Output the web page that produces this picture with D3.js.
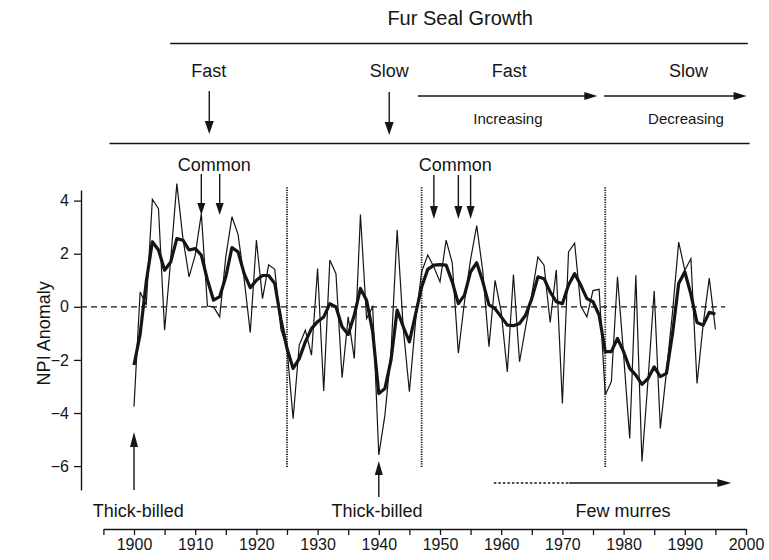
<!DOCTYPE html>
<html>
<head>
<meta charset="utf-8">
<script src="https://cdn.jsdelivr.net/npm/d3@7"></script>
<style>
  body { margin: 0; background: #fff; }
  svg { display: block; }
  text { font-family: "Liberation Sans", Arial, Helvetica, sans-serif; fill: #151515; }
</style>
</head>
<body>
<div id="chart"></div>
<script>
// NPI anomaly, annual values 1900-1995
const annual = [
  -3.76, 0.56, 0.07, 4.05, 3.70, -0.88, 1.79, 4.64, 2.57, 1.13,
  1.95, 3.51, 0.03, 0.00, -0.38, 1.88, 3.39, 2.73, 1.04, -0.97,
  2.51, 0.31, 1.58, 1.41, -0.85, -1.57, -4.21, -1.44, -0.88, -1.82,
  1.44, -3.17, 1.76, 1.25, -2.67, -0.38, -1.95, 3.48, -0.44, 0.00,
  -5.58, -4.08, -1.69, 2.89, -0.82, -3.20, -0.56, 1.32, 1.95, 1.50,
  0.94, 2.51, 1.66, -1.75, 0.19, 1.79, 3.06, 1.32, -1.50, 1.00,
  -0.19, -2.45, 1.22, -2.07, -0.75, 0.47, 1.88, 1.57, -0.59, 1.39,
  -3.64, 2.07, 2.40, 0.03, -0.38, 0.61, 0.66, -3.32, -2.82, 1.13,
  -1.79, -4.96, 1.19, -5.83, -2.73, 0.59, -4.58, -2.45, -0.19, 2.44,
  1.38, 1.81, -2.89, -0.66, 1.08, -0.85
];
// smoothed series (thick line)
const smoothed = [
  -2.19, -1.04, 0.94, 2.45, 2.14, 1.38, 1.69, 2.57, 2.51, 2.14,
  2.19, 1.95, 1.01, 0.25, 0.38, 1.13, 2.23, 2.07, 1.25, 0.72,
  1.00, 1.18, 1.18, 0.88, -0.47, -1.57, -2.32, -1.95, -1.32, -0.82,
  -0.56, -0.38, 0.12, 0.00, -0.75, -1.04, -0.31, 0.69, 0.25, -0.94,
  -3.27, -3.08, -2.00, -0.12, -0.75, -1.32, -0.28, 0.75, 1.41, 1.57,
  1.59, 1.57, 0.94, 0.12, 0.44, 1.32, 1.66, 0.94, 0.07, -0.07,
  -0.38, -0.69, -0.71, -0.63, -0.31, 0.31, 1.13, 1.06, 0.56, 0.19,
  0.12, 0.82, 1.25, 0.82, 0.31, 0.19, -0.31, -1.69, -1.69, -1.19,
  -1.69, -2.32, -2.57, -2.92, -2.70, -2.26, -2.63, -2.51, -1.00, 0.88,
  1.32, 0.47, -0.59, -0.69, -0.21, -0.27
];
const firstYear = 1900;

const xTickYears = [1895, 1900, 1905, 1910, 1915, 1920, 1925, 1930, 1935, 1940, 1945,
  1950, 1955, 1960, 1965, 1970, 1975, 1980, 1985, 1990, 1995, 2000];
const yTicks = [-6, -4, -2, 0, 2, 4];

// regime shifts (dotted lines)
const shiftYears = [1925, 1947, 1977];
// "Common" murre years
const commonYears = [[1911, 1914], [1949, 1953, 1955]];
const commonLabelYears = [1913.1, 1952.5];
// "Thick-billed" years
const thickBilledYears = [1900, 1940];

// fur seal growth header
const growthSpeed = [
  { text: "Fast", year: 1912.2 },
  { text: "Slow", year: 1941.7 },
  { text: "Fast", year: 1961.3 },
  { text: "Slow", year: 1990.6 }
];
const growthTrend = [
  { text: "Increasing", year: 1961.1 },
  { text: "Decreasing", year: 1990.2 }
];

const W = 769, H = 560;
const ink = "#151515";

const svg = d3.select("#chart").append("svg")
  .attr("width", W)
  .attr("height", H);

// =========================
// SCALES
// =========================
const x = d3.scaleLinear().domain([1895, 2000]).range([103.4, 746]);
const y = d3.scaleLinear().domain([-6.9, 4.4]).range([490, 190]);
const yAxisX = 81;

function downArrow(g, cx, y0, y1, headLen, headW) {
  g.append("line")
    .attr("x1", cx).attr("x2", cx)
    .attr("y1", y0).attr("y2", y1 - headLen + 1)
    .attr("stroke", ink).attr("stroke-width", 1.4);
  g.append("path")
    .attr("d", `M${cx - headW / 2},${y1 - headLen} L${cx + headW / 2},${y1 - headLen} L${cx},${y1} Z`)
    .attr("fill", ink);
}
function upArrow(g, cx, y0, y1, headLen, headW) {
  // y0 = bottom, y1 = tip
  g.append("line")
    .attr("x1", cx).attr("x2", cx)
    .attr("y1", y0).attr("y2", y1 + headLen - 1)
    .attr("stroke", ink).attr("stroke-width", 1.4);
  g.append("path")
    .attr("d", `M${cx - headW / 2},${y1 + headLen} L${cx + headW / 2},${y1 + headLen} L${cx},${y1} Z`)
    .attr("fill", ink);
}
function rightArrow(g, x0, x1, cy, headLen, headW, dash) {
  const l = g.append("line")
    .attr("x1", x0).attr("x2", x1 - headLen + 1)
    .attr("y1", cy).attr("y2", cy)
    .attr("stroke", ink).attr("stroke-width", 1.4);
  if (dash) l.attr("stroke-dasharray", dash);
  g.append("path")
    .attr("d", `M${x1 - headLen},${cy - headW / 2} L${x1 - headLen},${cy + headW / 2} L${x1},${cy} Z`)
    .attr("fill", ink);
}

// =========================
// HEADER: FUR SEAL GROWTH
// =========================
const header = svg.append("g");
header.append("text")
  .attr("x", x(1953.3)).attr("y", 25)
  .attr("text-anchor", "middle")
  .style("font-size", "20px")
  .text("Fur Seal Growth");

header.append("line")
  .attr("x1", x(1905.9)).attr("x2", x(2000.3))
  .attr("y1", 43.5).attr("y2", 43.5)
  .attr("stroke", ink).attr("stroke-width", 1.5);

header.selectAll("text.speed")
  .data(growthSpeed)
  .enter().append("text")
  .attr("class", "speed")
  .attr("x", d => x(d.year)).attr("y", 77)
  .attr("text-anchor", "middle")
  .style("font-size", "18px")
  .text(d => d.text);

downArrow(header, x(1912.3), 91, 134, 13, 9);
downArrow(header, x(1941.7), 92, 135, 13, 9);
rightArrow(header, x(1946.4), x(1975.7), 96, 13, 8);
rightArrow(header, x(1976.8), x(2000.1), 96, 13, 8);

header.selectAll("text.trend")
  .data(growthTrend)
  .enter().append("text")
  .attr("class", "trend")
  .attr("x", d => x(d.year)).attr("y", 123.5)
  .attr("text-anchor", "middle")
  .style("font-size", "15px")
  .text(d => d.text);

header.append("line")
  .attr("x1", x(1896)).attr("x2", x(2000.6))
  .attr("y1", 143.5).attr("y2", 143.5)
  .attr("stroke", ink).attr("stroke-width", 1.5);

// =========================
// AXES
// =========================
const xAxis = svg.append("g")
  .attr("transform", "translate(0,529)")
  .call(d3.axisBottom(x)
    .tickValues(xTickYears)
    .tickSize(6)
    .tickSizeOuter(0)
    .tickPadding(4)
    .tickFormat(d => d % 10 === 0 ? d : ""));
xAxis.select(".domain").attr("stroke", ink).attr("stroke-width", 1.4);
xAxis.selectAll(".tick line").attr("stroke", ink).attr("stroke-width", 1.3);
xAxis.selectAll(".tick text")
  .style("font-size", "16px")
  .style("font-family", "'Liberation Sans', Arial, sans-serif")
  .attr("fill", ink);

const yAxis = svg.append("g")
  .attr("transform", `translate(${yAxisX},0)`)
  .call(d3.axisLeft(y)
    .tickValues(yTicks)
    .tickSize(7)
    .tickSizeOuter(0)
    .tickPadding(5));
yAxis.select(".domain").attr("stroke", ink).attr("stroke-width", 1.4);
yAxis.selectAll(".tick line").attr("stroke", ink).attr("stroke-width", 1.3);
yAxis.selectAll(".tick text")
  .style("font-size", "16px")
  .style("font-family", "'Liberation Sans', Arial, sans-serif")
  .attr("fill", ink);

svg.append("text")
  .attr("transform", `translate(44,${y(-1)}) rotate(-90)`)
  .attr("text-anchor", "middle")
  .attr("dy", "0.35em")
  .style("font-size", "18px")
  .text("NPI Anomaly");

// zero line
svg.append("line")
  .attr("x1", yAxisX).attr("x2", x(1996.6))
  .attr("y1", y(0)).attr("y2", y(0))
  .attr("stroke", ink).attr("stroke-width", 1.2)
  .attr("stroke-dasharray", "6,4");

// regime shift lines
svg.selectAll("line.shift")
  .data(shiftYears)
  .enter().append("line")
  .attr("class", "shift")
  .attr("x1", d => x(d)).attr("x2", d => x(d))
  .attr("y1", y(4.5)).attr("y2", y(-6.05))
  .attr("stroke", ink).attr("stroke-width", 1.8)
  .attr("stroke-dasharray", "1.2,1.2");

// =========================
// DATA LINES
// =========================
const line = d3.line()
  .x((d, i) => x(firstYear + i))
  .y(d => y(d));

svg.append("path")
  .datum(annual)
  .attr("d", line)
  .attr("fill", "none")
  .attr("stroke", ink)
  .attr("stroke-width", 1.2)
  .attr("stroke-linejoin", "miter");

svg.append("path")
  .datum(smoothed)
  .attr("d", line)
  .attr("fill", "none")
  .attr("stroke", ink)
  .attr("stroke-width", 3.2)
  .attr("stroke-linejoin", "round");

// =========================
// MURRE ANNOTATIONS
// =========================
const notes = svg.append("g");
commonLabelYears.forEach(yr => {
  notes.append("text")
    .attr("x", x(yr)).attr("y", 171)
    .attr("text-anchor", "middle")
    .style("font-size", "18px")
    .text("Common");
});
commonYears[0].forEach(yr => downArrow(notes, x(yr), 174, 215, 12, 8));
commonYears[1].forEach(yr => downArrow(notes, x(yr), 175, 219, 13, 8));

upArrow(notes, x(thickBilledYears[0]), 490, 432, 15, 8);
upArrow(notes, x(thickBilledYears[1]), 497, 461, 14, 8);

const bottomLabels = [
  { text: "Thick-billed", year: 1900.7 },
  { text: "Thick-billed", year: 1939.7 },
  { text: "Few murres", year: 1979.9 }
];
notes.selectAll("text.bottom")
  .data(bottomLabels)
  .enter().append("text")
  .attr("class", "bottom")
  .attr("x", d => x(d.year)).attr("y", 517)
  .attr("text-anchor", "middle")
  .style("font-size", "18px")
  .text(d => d.text);

rightArrow(notes, x(1958.8), x(1971.1), 483, 0, 0, "2.5,2");
rightArrow(notes, x(1971.1), x(1997.6), 483, 14, 8);
</script>
</body>
</html>
